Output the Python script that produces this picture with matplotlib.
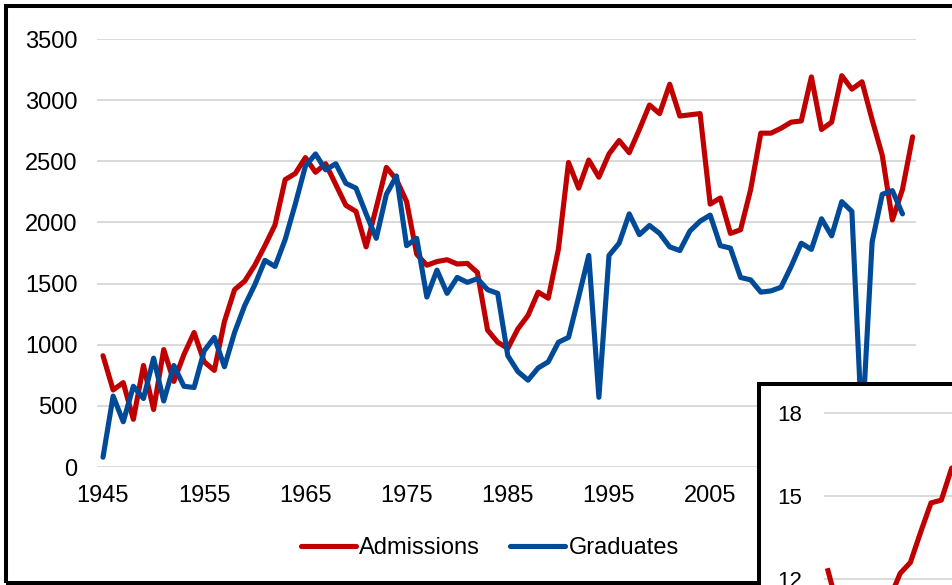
import matplotlib.pyplot as plt
from matplotlib.patches import Rectangle

plt.rcParams['font.family'] = ['Liberation Sans', 'DejaVu Sans']

years = list(range(1945, 2026))
admissions = [910, 630, 690, 390, 830, 470, 960, 700, 920, 1100,
              860, 790, 1190, 1450, 1520, 1650, 1810, 1980, 2350, 2400,
              2530, 2410, 2480, 2310, 2140, 2090, 1800, 2120, 2450, 2350,
              2170, 1740, 1650, 1680, 1695, 1660, 1665, 1590, 1120, 1020,
              970, 1130, 1240, 1430, 1380, 1780, 2490, 2280, 2510, 2370,
              2560, 2670, 2570, 2760, 2960, 2890, 3130, 2870, 2880, 2890,
              2150, 2200, 1910, 1940, 2270, 2730, 2730, 2770, 2820, 2830,
              3190, 2760, 2820, 3200, 3090, 3150, 2840, 2550, 2020, 2270,
              2700]
graduates = [80, 580, 370, 660, 560, 890, 540, 830, 660, 650,
             950, 1060, 820, 1100, 1320, 1490, 1690, 1640, 1860, 2150,
             2460, 2560, 2430, 2480, 2320, 2280, 2070, 1870, 2230, 2380,
             1810, 1870, 1390, 1610, 1420, 1550, 1510, 1540, 1450, 1420,
             910, 780, 710, 810, 860, 1020, 1060, 1390, 1730, 570,
             1730, 1830, 2070, 1900, 1975, 1910, 1800, 1770, 1930, 2010,
             2060, 1810, 1790, 1550, 1530, 1430, 1440, 1470, 1640, 1830,
             1780, 2030, 1890, 2170, 2090, 300, 1840, 2230, 2260, 2070]
x_ticks = list(range(1945, 2006, 10))  # 2015 sits under the inset
y_ticks = [0, 500, 1000, 1500, 2000, 2500, 3000, 3500]

# inset (only partly visible in the crop)
inset_x = list(range(14))
inset_vals = [12.3, 10.9, 10.4, 10.2, 10.5, 10.8, 11.3, 12.2, 12.6, 13.7,
              14.75, 14.85, 16.0, 16.2]
inset_ticks = [12, 15, 18]

RED = '#C00000'
BLUE = '#004A98'
GRID = '#D9D9D9'
W, H = 952, 585


def fx(p):
    return p / W


def fy(p):
    return 1 - p / H


fig = plt.figure(figsize=(W / 100, H / 100), dpi=100)

# main chart
ax = fig.add_axes([fx(97), fy(467), fx(916 - 97), (467 - 39) / H])
ax.plot(years, admissions, color=RED, lw=3.7, solid_joinstyle='round',
        solid_capstyle='round', label='Admissions')
ax.plot(years[:len(graduates)], graduates, color=BLUE, lw=3.7,
        solid_joinstyle='round', solid_capstyle='round', label='Graduates')
ax.set_xlim(1945 - 6 / 10.12, 1945 + (916 - 103) / 10.12)
ax.set_ylim(0, 3500)
ax.set_xticks(x_ticks)
ax.set_yticks(y_ticks)
ax.yaxis.grid(True, color=GRID, lw=1.4)
ax.set_axisbelow(True)
for s in ax.spines.values():
    s.set_visible(False)
ax.tick_params(axis='both', length=0, labelsize=17, colors='black')
ax.tick_params(axis='y', pad=14)
ax.tick_params(axis='x', pad=13)

fig.legend(loc='center', bbox_to_anchor=(fx(490), fy(548)), ncol=2,
           frameon=False, fontsize=17, handlelength=2.33, handletextpad=0.13,
           columnspacing=1.27)

# outer frame of the main chart
fig.add_artist(Rectangle((fx(6), fy(583)), fx(1500), (583 - 6) / H,
                         transform=fig.transFigure, fill=False,
                         edgecolor='black', lw=2.9, zorder=1, clip_on=False))

# inset chart frame
fig.add_artist(Rectangle((fx(759), fy(1000)), fx(800), (1000 - 384) / H,
                         transform=fig.transFigure, facecolor='white',
                         edgecolor='black', lw=2.9, zorder=2, clip_on=False))

ax2 = fig.add_axes([fx(824), fy(745), fx(400), (745 - 400) / H], zorder=3)
ax2.patch.set_visible(False)
ax2.plot(inset_x, inset_vals, color=RED, lw=3.7, solid_joinstyle='round')
ax2.set_xlim(-4 / 10.3, -4 / 10.3 + 400 / 10.3)
ax2.set_ylim(12 - 166 / 27.667, 18 + 13 / 27.667)
ax2.set_yticks(inset_ticks)
ax2.set_xticks([])
ax2.yaxis.grid(True, color=GRID, lw=1.4)
ax2.set_axisbelow(True)
for s in ax2.spines.values():
    s.set_visible(False)
ax2.tick_params(axis='y', length=0, labelsize=16, pad=16, colors='black')

fig.savefig('out.png', dpi=100)
